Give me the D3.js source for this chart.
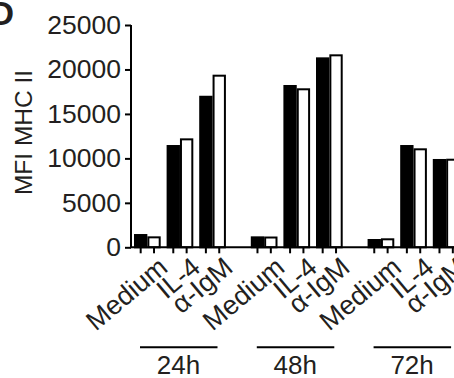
<!DOCTYPE html>
<html lang="en">
<head>
    <meta charset="utf-8">
    <title>MFI MHC II</title>
    <script src="https://d3js.org/d3.v7.min.js"></script>
    <style>
        body { margin: 0; background: #fff; }
        text { font-family: "Liberation Sans", Arial, sans-serif; fill: #231f20; }
    </style>
</head>
<body>
<svg width="454" height="378"></svg>
<script>
    var groups = ["24h", "48h", "72h"];
    var conditions = ["Medium", "IL-4", "α-IgM"];
    // black bars, then white bars, in order 24h / 48h / 72h
    var blackValues = [1380, 11390, 16930, 1120, 18140, 21250, 820, 11390, 9820];
    var whiteValues = [1120, 12140, 19300, 1100, 17770, 21590, 900, 11020, 9850];
    var yTicks = [0, 5000, 10000, 15000, 20000, 25000];

    var data = [];
    groups.forEach(function(g, gi){
        conditions.forEach(function(c, ci){
            var i = gi * conditions.length + ci;
            data.push({group: g, cond: c, s: "black", v: blackValues[i]});
            data.push({group: g, cond: c, s: "white", v: whiteValues[i]});
        });
    });

    var svg = d3.select("svg");

    var y = d3.scaleLinear()
        .domain([0, 25000])
        .range([247.3, 25]);

    var x0 = d3.scaleBand()
        .domain(groups)
        .range([134, 459.5])
        .paddingInner(0.213);
    var x1 = d3.scaleBand()
        .domain(conditions)
        .range([0, x0.bandwidth()])
        .paddingInner(0.181);
    var x2 = d3.scaleBand()
        .domain(["black", "white"])
        .range([0, x1.bandwidth()]);

    function barX(d){ return x0(d.group) + x1(d.cond) + x2(d.s); }

    // bars
    svg.append("g").selectAll("rect")
        .data(data)
        .enter()
        .append("rect")
        .attr("x", function(d){ return barX(d) + 1; })
        .attr("y", function(d){ return y(d.v); })
        .attr("width", x2.bandwidth() - 2)
        .attr("height", function(d){ return y(0) - y(d.v); })
        .attr("fill", function(d){ return d.s == "black" ? "#000" : "#fff"; })
        .attr("stroke", "#000")
        .attr("stroke-width", 2);

    // y axis
    var yAxis = d3.axisLeft(y)
        .tickValues(yTicks)
        .tickSize(6)
        .tickPadding(4)
        .tickSizeOuter(0)
        .tickFormat(d3.format("d"));
    var gy = svg.append("g")
        .attr("transform", "translate(131,0)")
        .call(yAxis);
    gy.selectAll("path,line").attr("stroke", "#000").attr("stroke-width", 2);
    gy.select(".domain").attr("d", "M0," + y(25000) + "V" + y(0));
    gy.selectAll("text").attr("font-size", 26.5).attr("font-family", null).attr("fill", null);

    // x axis baseline + ticks under each bar
    svg.append("line")
        .attr("x1", 130).attr("x2", 454)
        .attr("y1", y(0)).attr("y2", y(0))
        .attr("stroke", "#000").attr("stroke-width", 2);
    svg.append("g").selectAll("line")
        .data(data)
        .enter()
        .append("line")
        .attr("x1", function(d){ return barX(d) + x2.bandwidth() / 2; })
        .attr("x2", function(d){ return barX(d) + x2.bandwidth() / 2; })
        .attr("y1", y(0)).attr("y2", y(0) + 6)
        .attr("stroke", "#000").attr("stroke-width", 2);

    // condition labels, rotated
    var labels = [];
    groups.forEach(function(g){
        conditions.forEach(function(c){ labels.push({group: g, cond: c}); });
    });
    svg.append("g").selectAll("text")
        .data(labels)
        .enter()
        .append("text")
        .attr("transform", function(d){
            var cx = x0(d.group) + x1(d.cond) + x1.bandwidth() / 2;
            return "translate(" + (cx + 22) + ",270) rotate(-40)";
        })
        .attr("text-anchor", "end")
        .attr("font-size", 27)
        .text(function(d){ return d.cond; });

    // group lines and labels
    var gg = svg.append("g").selectAll("g")
        .data(groups)
        .enter()
        .append("g");
    gg.append("line")
        .attr("x1", function(d){ return x0(d) + 6; })
        .attr("x2", function(d){ return x0(d) + 83.5; })
        .attr("y1", 347.3).attr("y2", 347.3)
        .attr("stroke", "#000").attr("stroke-width", 2);
    gg.append("text")
        .attr("x", function(d){ return x0(d) + 44.5; })
        .attr("y", 374)
        .attr("text-anchor", "middle")
        .attr("font-size", 26)
        .text(function(d){ return d; });

    // y title
    svg.append("text")
        .attr("transform", "translate(31.5,132.5) rotate(-90)")
        .attr("text-anchor", "middle")
        .attr("font-size", 24.5)
        .text("MFI MHC II");

    // panel letter (cut at the edge)
    svg.append("text")
        .attr("x", 14).attr("y", 25)
        .attr("text-anchor", "end")
        .attr("font-size", 34)
        .attr("font-weight", "bold")
        .text("D");
</script>
</body>
</html>
